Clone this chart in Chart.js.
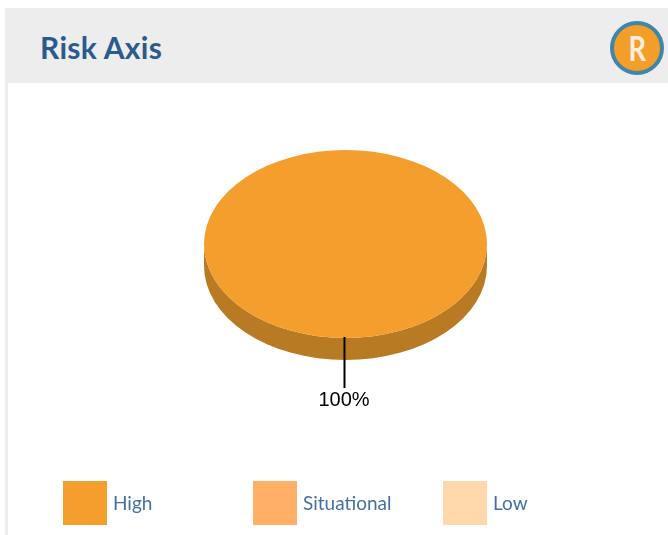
<!DOCTYPE html>
<html>
<head>
<meta charset="utf-8">
<title>Risk Axis</title>
<script src="https://cdn.jsdelivr.net/npm/chart.js@4"></script>
<style>
  html, body { margin: 0; padding: 0; background: #fff; overflow: hidden; }
  #page { position: relative; width: 668px; height: 535px; overflow: hidden; font-family: Lato, "Open Sans", sans-serif; }
  #rail { position: absolute; left: 5px; top: 83px; width: 3px; height: 452px; background: #eeeeee; }
  #header { position: absolute; left: 5px; top: 8px; width: 663px; height: 75px; background: #ededed; }
  #title { position: absolute; left: 40px; top: 28px; margin: 0; font-size: 30px; letter-spacing: 0.3px; line-height: 38px; font-weight: 700; color: #2a5b8e; }
  #badge { position: absolute; left: 610px; top: 21px; width: 54px; height: 54px; box-sizing: border-box; border: 4px solid #3f86a9; border-radius: 50%; background: #f49e2a; color: #fdeedd; font-size: 35px; font-weight: 700; line-height: 45px; text-align: center; }
  #badge span { display: inline-block; transform: scaleX(0.78); }
  #chart { position: absolute; left: 0; top: 0; }
  .legend-box { position: absolute; top: 481px; width: 44px; height: 44px; }
  .legend-text { position: absolute; top: 490px; font-size: 19px; line-height: 26px; color: #44709f; }
</style>
</head>
<body>
<div id="page">
  <div id="header"></div>
  <div id="rail"></div>
  <h1 id="title">Risk Axis</h1>
  <div id="badge"><span>R</span></div>
  <canvas id="chart" width="668" height="535"></canvas>
  <div id="legend"></div>
</div>
<script>
const categories = ["High", "Situational", "Low"];
const values = [100, 0, 0];
const sliceColors = ["#f49e2d", "#ffb066", "#ffd9ac"];
const sideColors = ["#b97a24", "#bf8048", "#bfa280"];

const tilt = 94 / 141.5;
const depth = 22;

// squash the round pie into an ellipse and draw the side wall under it
const pie3d = {
  id: "pie3d",
  beforeDatasetsDraw(chart) {
    const ctx = chart.ctx;
    const arcs = chart.getDatasetMeta(0).data;
    ctx.save();
    ctx.translate(arcs[0].x, arcs[0].y);
    ctx.scale(1, tilt);
    ctx.translate(-arcs[0].x, -arcs[0].y);
    arcs.forEach((arc, i) => {
      if (values[i] === 0) return;
      // only the front half of the slice shows a wall
      const from = Math.max(0, arc.startAngle);
      const to = Math.min(Math.PI, arc.endAngle);
      if (to <= from) return;
      ctx.fillStyle = sideColors[i];
      ctx.beginPath();
      ctx.arc(arc.x, arc.y + depth / tilt, arc.outerRadius, from, to);
      ctx.arc(arc.x, arc.y, arc.outerRadius, to, from, true);
      ctx.closePath();
      ctx.fill();
    });
  },
  afterDatasetsDraw(chart) {
    chart.ctx.restore();
  }
};

// leader line and percent label
const leaders = {
  id: "leaders",
  afterDraw(chart) {
    const ctx = chart.ctx;
    const total = values.reduce((a, b) => a + b, 0);
    chart.getDatasetMeta(0).data.forEach((arc, i) => {
      if (values[i] === 0) return;
      const mid = (arc.startAngle + arc.endAngle) / 2;
      const x = arc.x + Math.cos(mid) * arc.outerRadius - 1;
      const y = arc.y + Math.sin(mid) * arc.outerRadius * tilt;
      ctx.save();
      ctx.strokeStyle = "#000";
      ctx.lineWidth = 2;
      ctx.beginPath();
      ctx.moveTo(x, y - 1);
      ctx.lineTo(x, y + 50);
      ctx.stroke();
      ctx.fillStyle = "#000";
      ctx.font = '20px "Liberation Sans", Arial, sans-serif';
      ctx.textAlign = "center";
      ctx.textBaseline = "middle";
      ctx.fillText(Math.round(values[i] / total * 100) + "%", x - 0.5, y + 62);
      ctx.restore();
    });
  }
};

new Chart(document.getElementById("chart").getContext("2d"), {
  type: "pie",
  data: {
    labels: categories,
    datasets: [{
      data: values,
      backgroundColor: sliceColors,
      borderWidth: 0
    }]
  },
  options: {
    responsive: false,
    animation: false,
    devicePixelRatio: 1,
    layout: { padding: { left: 204, right: 181, top: 102.5, bottom: 149.5 } },
    plugins: {
      legend: { display: false },
      tooltip: { enabled: false }
    }
  },
  plugins: [pie3d, leaders]
});

// legend
const legend = document.getElementById("legend");
categories.forEach((name, i) => {
  const box = document.createElement("div");
  box.className = "legend-box";
  box.style.left = (63 + i * 190) + "px";
  box.style.background = sliceColors[i];
  legend.appendChild(box);
  const text = document.createElement("div");
  text.className = "legend-text";
  text.style.left = (113 + i * 190) + "px";
  text.textContent = name;
  legend.appendChild(text);
});
</script>
</body>
</html>
